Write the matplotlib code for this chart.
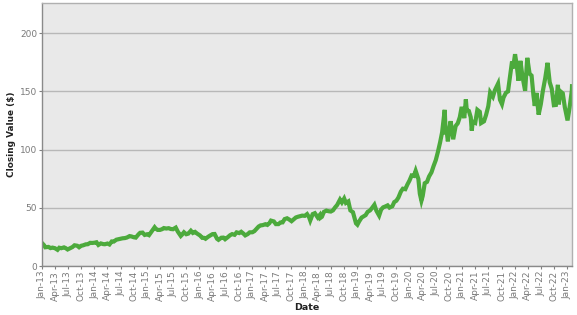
import matplotlib
matplotlib.use("Agg")
import matplotlib.pyplot as plt
import matplotlib.dates as mdates
import pandas as pd

dates_2013_2014 = [
    "2013-01-02", "2013-01-15", "2013-01-24", "2013-02-01", "2013-02-15", "2013-03-01",
    "2013-03-15", "2013-04-01", "2013-04-19", "2013-05-01", "2013-05-15", "2013-06-03",
    "2013-06-14", "2013-06-28", "2013-07-15", "2013-08-01", "2013-08-15", "2013-09-03",
    "2013-09-16", "2013-10-01", "2013-10-15", "2013-11-01", "2013-11-15", "2013-12-02",
    "2013-12-16", "2013-12-31",
    "2014-01-15", "2014-01-28", "2014-02-14", "2014-03-03", "2014-03-14", "2014-04-01",
    "2014-04-15", "2014-05-01", "2014-05-15", "2014-06-02", "2014-06-16", "2014-07-01",
    "2014-07-15", "2014-08-01", "2014-08-15", "2014-09-02", "2014-09-15", "2014-10-01",
    "2014-10-15", "2014-11-03", "2014-11-14", "2014-12-01", "2014-12-16",
]
close_2013_2014 = [
    19.6, 17.9, 16.1, 16.2, 16.4, 15.4,
    15.8, 15.3, 13.9, 15.7, 15.3, 16.0,
    15.4, 14.2, 15.3, 16.3, 17.8, 17.4,
    16.1, 17.4, 17.8, 18.6, 18.7, 19.9,
    19.8, 20.0,
    20.4, 18.1, 19.4, 18.8, 18.7, 19.3,
    18.5, 21.1, 21.0, 22.6, 23.0, 23.4,
    23.8, 24.0, 24.5, 25.7, 25.4, 24.7,
    24.4, 27.2, 28.5, 28.7, 26.7,
]

dates_2015_2016 = [
    "2015-01-02", "2015-01-15", "2015-02-02", "2015-02-23", "2015-03-02", "2015-03-16",
    "2015-04-01", "2015-04-15", "2015-04-28", "2015-05-15", "2015-06-01", "2015-06-15",
    "2015-07-01", "2015-07-20", "2015-08-03", "2015-08-24", "2015-09-01", "2015-09-15",
    "2015-10-01", "2015-10-15", "2015-11-02", "2015-11-16", "2015-12-01", "2015-12-16",
    "2016-01-04", "2016-01-20", "2016-02-01", "2016-02-12", "2016-03-01", "2016-03-15",
    "2016-04-01", "2016-04-15", "2016-05-02", "2016-05-12", "2016-06-01", "2016-06-15",
    "2016-06-27", "2016-07-15", "2016-08-01", "2016-08-15", "2016-09-01", "2016-09-15",
    "2016-10-03", "2016-10-17", "2016-11-01", "2016-11-14", "2016-12-01", "2016-12-15",
]
close_2015_2016 = [
    27.3, 26.5, 29.7, 33.3, 32.2, 31.0,
    31.0, 31.6, 32.6, 32.2, 32.5, 31.8,
    31.6, 33.0, 29.6, 25.8, 26.8, 29.0,
    27.3, 27.8, 30.3, 28.4, 29.3, 27.8,
    26.3, 24.2, 24.2, 23.4, 25.1, 26.2,
    27.4, 27.5, 23.4, 22.5, 24.3, 24.4,
    23.0, 24.7, 26.5, 27.4, 26.8, 28.9,
    28.3, 29.4, 27.9, 26.3, 27.4, 28.9,
]

dates_2017_2018 = [
    "2017-01-03", "2017-01-17", "2017-02-01", "2017-02-15", "2017-03-01", "2017-03-15",
    "2017-04-03", "2017-04-17", "2017-05-01", "2017-05-12", "2017-06-01", "2017-06-15",
    "2017-07-03", "2017-07-17", "2017-08-01", "2017-08-15", "2017-09-01", "2017-09-15",
    "2017-10-02", "2017-10-16", "2017-11-01", "2017-11-15", "2017-12-01", "2017-12-15",
    "2018-01-02", "2018-01-18", "2018-02-01", "2018-02-09", "2018-02-26", "2018-03-13",
    "2018-04-02", "2018-04-16", "2018-04-20", "2018-05-01", "2018-05-15", "2018-06-01",
    "2018-06-15", "2018-07-02", "2018-07-17", "2018-08-01", "2018-08-15", "2018-09-04",
    "2018-09-17", "2018-10-03", "2018-10-15", "2018-11-01", "2018-11-15", "2018-12-03",
    "2018-12-14", "2018-12-24",
]
close_2017_2018 = [
    29.0, 30.0, 32.0, 33.9, 34.9, 35.1,
    35.9, 35.3, 36.8, 39.0, 38.3, 36.0,
    36.0, 37.4, 37.5, 40.3, 41.0, 40.0,
    38.5, 40.0, 41.7, 42.3, 42.8, 43.3,
    43.1, 44.6, 41.9, 39.1, 44.6, 45.4,
    41.7, 43.8, 41.3, 42.3, 46.5, 47.6,
    47.1, 46.8, 47.8, 50.4, 52.4, 57.1,
    54.6, 58.0, 54.2, 55.5, 47.8, 46.2,
    41.4, 36.7,
]

dates_2019_2020 = [
    "2019-01-03", "2019-01-15", "2019-02-01", "2019-02-15", "2019-03-01", "2019-03-15",
    "2019-04-01", "2019-04-15", "2019-05-01", "2019-05-15", "2019-06-03", "2019-06-17",
    "2019-07-01", "2019-07-15", "2019-08-01", "2019-08-14", "2019-09-03", "2019-09-16",
    "2019-10-01", "2019-10-15", "2019-11-01", "2019-11-15", "2019-12-02", "2019-12-16",
    "2019-12-31",
    "2020-01-15", "2020-01-31", "2020-02-12", "2020-02-21", "2020-03-02", "2020-03-12",
    "2020-03-23", "2020-04-01", "2020-04-15", "2020-05-01", "2020-05-15", "2020-06-01",
    "2020-06-15", "2020-07-01", "2020-07-15", "2020-07-31", "2020-08-14", "2020-09-01",
    "2020-09-08", "2020-09-15", "2020-09-23", "2020-10-01", "2020-10-12", "2020-10-30",
    "2020-11-16", "2020-12-01", "2020-12-15", "2020-12-28",
]
close_2019_2020 = [
    35.5, 38.3, 41.6, 42.6, 43.7, 46.5,
    47.8, 49.9, 52.6, 47.5, 43.3, 48.5,
    50.4, 51.1, 52.1, 50.2, 51.4, 54.9,
    56.1, 58.8, 63.9, 66.4, 66.0, 69.9,
    73.4,
    77.8, 77.4, 81.8, 78.3, 74.7, 62.1,
    56.1, 60.2, 71.1, 72.3, 76.9, 80.5,
    85.7, 91.0, 97.7, 106.3, 114.9, 134.2,
    113.0, 115.5, 107.1, 116.8, 124.4, 108.9,
    120.3, 122.7, 127.9, 136.7,
]

dates_2021_2023 = [
    "2021-01-15", "2021-01-26", "2021-02-01", "2021-02-16", "2021-03-01", "2021-03-08",
    "2021-03-15", "2021-04-01", "2021-04-16", "2021-05-03", "2021-05-12", "2021-06-01",
    "2021-06-15", "2021-07-01", "2021-07-14", "2021-08-02", "2021-08-16", "2021-09-07",
    "2021-09-20", "2021-10-04", "2021-10-15", "2021-11-01", "2021-11-15", "2021-12-01",
    "2021-12-13", "2021-12-20",
    "2022-01-03", "2022-01-14", "2022-01-27", "2022-02-09", "2022-02-24", "2022-03-14",
    "2022-03-29", "2022-04-14", "2022-04-28", "2022-05-11", "2022-05-20", "2022-06-01",
    "2022-06-16", "2022-07-01", "2022-07-15", "2022-08-01", "2022-08-17", "2022-09-01",
    "2022-09-15", "2022-09-30", "2022-10-14", "2022-10-28", "2022-11-03", "2022-11-15",
    "2022-12-01", "2022-12-15", "2023-01-03", "2023-01-17", "2023-02-02", "2023-02-03",
]
close_2021_2023 = [
    127.1, 143.2, 134.1, 133.2, 127.8, 116.4,
    124.0, 123.0, 134.2, 132.5, 122.8, 124.3,
    129.6, 137.3, 149.2, 145.5, 151.1, 156.7,
    142.9, 139.1, 144.8, 148.9, 150.0, 164.8,
    175.7, 169.8,
    182.0, 173.1, 159.2, 176.3, 162.7, 150.6,
    178.9, 165.3, 163.6, 146.5, 137.6, 148.7,
    130.1, 138.9, 150.2, 161.5, 174.6, 157.9,
    152.4, 138.2, 138.4, 155.7, 138.9, 150.0,
    148.3, 136.5, 125.1, 135.9, 150.8, 154.5,
]

y_ticks = [0, 50, 100, 150, 200]

dates = pd.to_datetime(dates_2013_2014 + dates_2015_2016 + dates_2017_2018
                       + dates_2019_2020 + dates_2021_2023)
closes = close_2013_2014 + close_2015_2016 + close_2017_2018 + close_2019_2020 + close_2021_2023

fig = plt.figure(figsize=(5.77, 3.15), dpi=100)
ax = fig.add_axes([42 / 577, 1 - 266 / 315, (572 - 42) / 577, (266 - 3) / 315])
ax.set_facecolor("#e9e9e9")

ax.plot(dates, closes, color="#4caa3c", linewidth=3.0, solid_joinstyle="miter")

ax.set_xlim(pd.Timestamp("2013-01-01"), pd.Timestamp("2023-02-03"))
ax.set_ylim(0, 226)
ax.set_yticks(y_ticks)
ax.yaxis.grid(True, color="#b8b8b8", linewidth=1.0)
ax.xaxis.grid(False)
ax.set_axisbelow(True)

ax.xaxis.set_major_locator(mdates.MonthLocator(bymonth=[1, 4, 7, 10]))
ax.xaxis.set_major_formatter(mdates.DateFormatter("%b-%y"))
plt.setp(ax.get_xticklabels(), rotation=90)

ax.tick_params(axis="both", labelsize=6.5, colors="#808080", length=2, width=0.8, pad=1.5)
for lbl in ax.get_xticklabels() + ax.get_yticklabels():
    lbl.set_color("#7a7a7a")

for side in ["left", "bottom"]:
    ax.spines[side].set_color("#8a8a8a")
    ax.spines[side].set_linewidth(1.0)
for side in ["top", "right"]:
    ax.spines[side].set_color("#b0b0b0")
    ax.spines[side].set_linewidth(1.0)

ax.set_xlabel("Date", fontsize=6.8, fontweight="bold", color="#222222", labelpad=1)
ax.set_ylabel("Closing Value ($)", fontsize=6.4, fontweight="bold", color="#222222", labelpad=3)

fig.savefig("out.png", dpi=100)
